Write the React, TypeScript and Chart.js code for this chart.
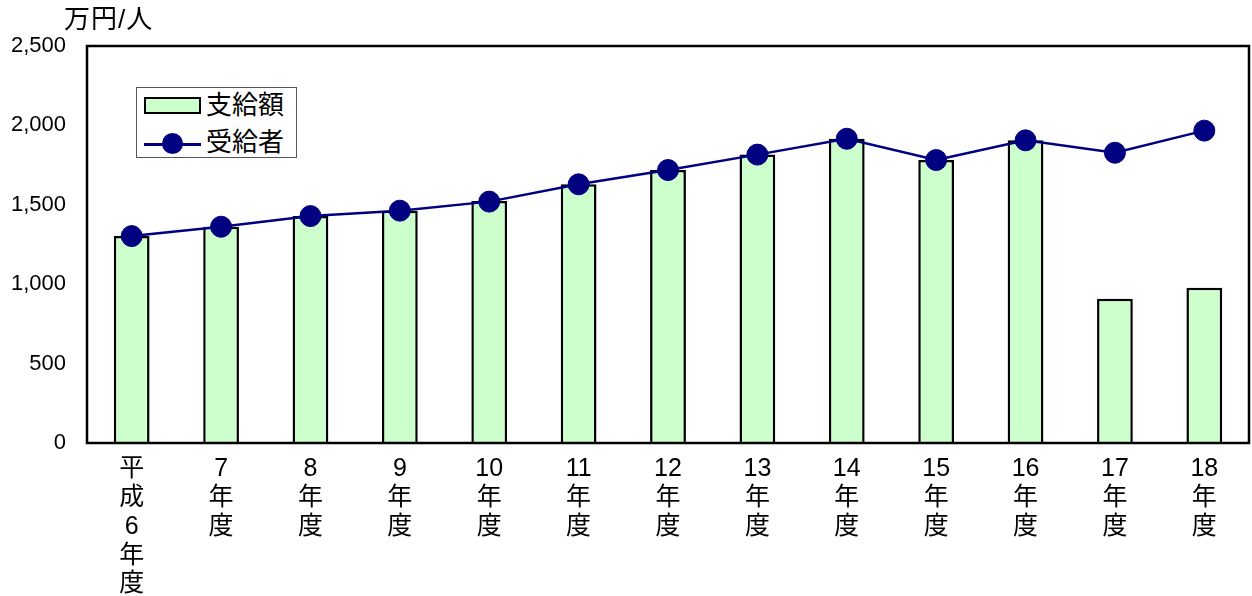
import React, { useEffect, useRef } from "react";
import { Chart, registerables } from "chart.js";

Chart.register(...registerables);

const categories: string[][] = [
  ["平", "成", "6", "年", "度"],
  ["7", "年", "度"],
  ["8", "年", "度"],
  ["9", "年", "度"],
  ["10", "年", "度"],
  ["11", "年", "度"],
  ["12", "年", "度"],
  ["13", "年", "度"],
  ["14", "年", "度"],
  ["15", "年", "度"],
  ["16", "年", "度"],
  ["17", "年", "度"],
  ["18", "年", "度"],
];

const payments = [1303, 1362, 1429, 1463, 1524, 1629, 1719, 1816, 1916, 1782, 1906, 909, 978];
const recipients = [1303, 1362, 1429, 1463, 1520, 1629, 1719, 1816, 1916, 1782, 1906, 1828, 1967];

const yTicks = [0, 500, 1000, 1500, 2000, 2500];
const unitLabel = "万円/人";
const barLabel = "支給額";
const lineLabel = "受給者";

const FONT = "'Liberation Sans', Arial, 'Noto Sans CJK JP', sans-serif";

const framePlugin = {
  id: "frame",
  afterDraw(chart: any) {
    const { ctx, chartArea } = chart;
    ctx.save();
    ctx.strokeStyle = "#000";
    ctx.lineWidth = 2.5;
    ctx.strokeRect(chartArea.left, chartArea.top, chartArea.right - chartArea.left, chartArea.bottom - chartArea.top);
    ctx.restore();
  },
};

export default function App() {
  const ref = useRef<HTMLCanvasElement>(null);

  useEffect(() => {
    if (!ref.current) return;
    const chart = new Chart(ref.current, {
      type: "bar",
      data: {
        labels: categories,
        datasets: [
          {
            type: "line" as any,
            label: lineLabel,
            data: recipients,
            borderColor: "#000080",
            backgroundColor: "#000080",
            borderWidth: 2.5,
            pointRadius: 10.5,
            pointBorderWidth: 1,
            pointBackgroundColor: "#000080",
            pointBorderColor: "#000080",
            tension: 0,
            order: 1,
          } as any,
          {
            type: "bar",
            label: barLabel,
            data: payments,
            backgroundColor: "#CCFFCC",
            borderColor: "#000",
            borderWidth: 2.5,
            barPercentage: 0.4,
            categoryPercentage: 1,
            order: 2,
          },
        ],
      },
      options: {
        animation: false,
        responsive: false,
        maintainAspectRatio: false,
        layout: { autoPadding: false, padding: { left: 0, top: 46, right: 3, bottom: 0 } },
        plugins: {
          legend: { display: false },
          tooltip: { enabled: false },
          title: { display: false },
        },
        scales: {
          x: {
            grid: { display: false, drawTicks: false },
            border: { display: false },
            ticks: {
              color: "#000",
              maxRotation: 0,
              autoSkip: false,
              padding: 12,
              font: { family: FONT, size: 25, lineHeight: 1.15 },
            },
            afterFit(scale: any) {
              scale.height = 153;
              scale.paddingLeft = 0;
              scale.paddingRight = 0;
            },
          },
          y: {
            min: 0,
            max: 2500,
            grid: { display: false, drawTicks: false },
            border: { display: false },
            afterBuildTicks(scale: any) {
              scale.ticks = yTicks.map((v) => ({ value: v }));
            },
            ticks: {
              color: "#000",
              padding: 21,
              font: { family: FONT, size: 22 },
              callback: (v: any) => Number(v).toLocaleString("en-US"),
            },
            afterFit(scale: any) {
              scale.width = 87;
              scale.paddingTop = 0;
              scale.paddingBottom = 0;
            },
          },
        },
      },
      plugins: [framePlugin],
    });
    return () => chart.destroy();
  }, []);

  return (
    <div style={{ position: "fixed", left: 0, top: 0, width: 1252, height: 596, background: "#fff", fontFamily: FONT }}>
      <canvas ref={ref} width={1252} height={596} style={{ position: "absolute", left: 0, top: 0, width: 1252, height: 596 }} />
      <div style={{ position: "absolute", left: 64, top: 3, fontSize: 26, lineHeight: "32px", letterSpacing: 1, color: "#000" }}>{unitLabel}</div>
      <div
        style={{
          position: "absolute",
          left: 136,
          top: 87,
          width: 161,
          height: 71,
          border: "1px solid #555",
          background: "#fff",
          boxSizing: "border-box",
          fontSize: 26,
          color: "#000",
        }}
      >
        <div style={{ position: "absolute", left: 7, top: 9, width: 57, height: 17, background: "#CCFFCC", border: "2.5px solid #000", boxSizing: "border-box" }} />
        <div style={{ position: "absolute", left: 69, top: 1, lineHeight: "32px" }}>{barLabel}</div>
        <div style={{ position: "absolute", left: 7, top: 55, width: 57, height: 2.5, background: "#000080" }} />
        <div style={{ position: "absolute", left: 25, top: 45, width: 21, height: 21, borderRadius: "50%", background: "#000080" }} />
        <div style={{ position: "absolute", left: 69, top: 38, lineHeight: "32px" }}>{lineLabel}</div>
      </div>
    </div>
  );
}
